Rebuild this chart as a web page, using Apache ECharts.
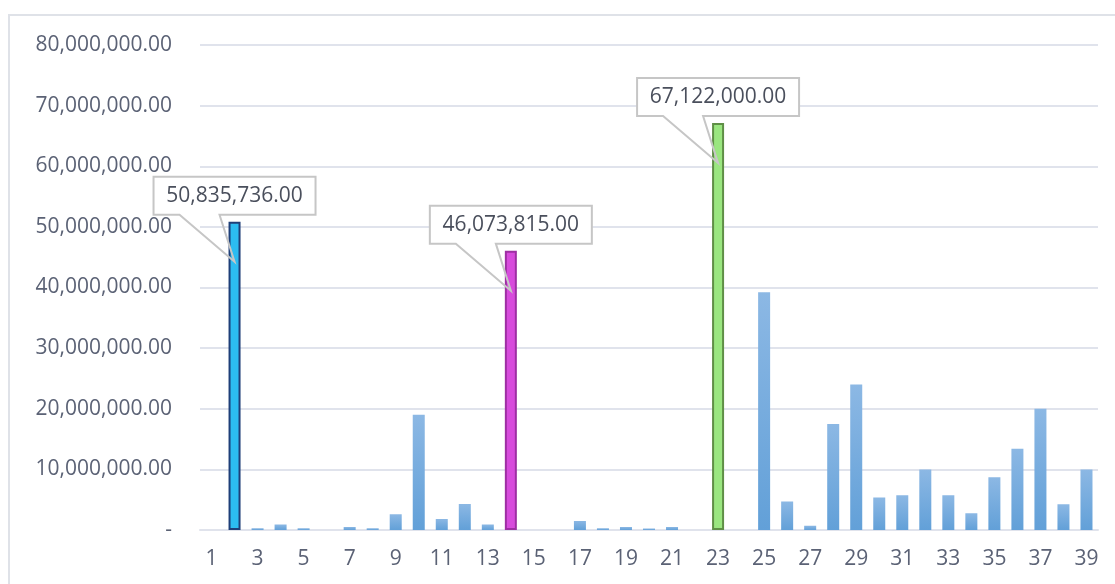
<!DOCTYPE html>
<html>
<head>
<meta charset="utf-8">
<script src="https://cdn.jsdelivr.net/npm/echarts@6/dist/echarts.min.js"></script>
<style>
  html, body { margin: 0; padding: 0; background: #fff; }
  #conMain { width: 1115px; height: 584px; }
</style>
</head>
<body>
<div id="conMain"></div>
<script>
var categories = ['1','2','3','4','5','6','7','8','9','10','11','12','13','14','15','16','17','18','19','20',
                  '21','22','23','24','25','26','27','28','29','30','31','32','33','34','35','36','37','38','39'];
var values = [0, 50835736, 300000, 900000, 300000, 0, 500000, 300000, 2600000, 19000000,
              1800000, 4300000, 900000, 46073815, 0, 0, 1500000, 300000, 500000, 250000,
              500000, 0, 67122000, 0, 39200000, 4700000, 700000, 17500000, 24000000, 5350000,
              5750000, 10000000, 5750000, 2750000, 8700000, 13400000, 20000000, 4250000, 10000000];
var yTicks = [0, 10000000, 20000000, 30000000, 40000000, 50000000, 60000000, 70000000, 80000000];

// bars that carry a callout label
var callouts = {
    '2':  { fill: '#2cbcf1', border: '#1f3f78' },
    '14': { fill: '#d74bdc', border: '#9e2fa3' },
    '23': { fill: '#9ae680', border: '#5f8f46' }
};

var FONT = 'Open Sans';
var textColor = '#5b6275';

function fmt(v) {
    return v.toLocaleString('en-US', { minimumFractionDigits: 2, maximumFractionDigits: 2 });
}

var normalStyle = {
    color: new echarts.graphic.LinearGradient(0, 0, 0, 1, [
        { offset: 0, color: '#8cb8e4' },
        { offset: 1, color: '#62a0d8' }
    ])
};

var data = values.map(function (v, i) {
    var c = callouts[categories[i]];
    if (!c) return { value: v, itemStyle: normalStyle };
    return {
        value: v,
        itemStyle: { color: c.fill, borderColor: c.border, borderWidth: 2 },
        label: {
            show: true,
            position: 'top',
            distance: 7,
            formatter: function (p) { return fmt(p.value); },
            fontFamily: FONT,
            fontSize: 21,
            color: '#4a4f5c',
            backgroundColor: '#fff',
            width: 142,
            height: 22,
            lineHeight: 22,
            align: 'center',
            padding: [8, 10]
        }
    };
});

var myChart = echarts.init(document.getElementById('conMain'));

var option = {
    animation: false,
    grid: { left: 200, right: 17, top: 45, bottom: 54, containLabel: false },
    xAxis: {
        type: 'category',
        data: categories,
        axisTick: { show: false },
        axisLine: { lineStyle: { color: '#e0e3ec', width: 2 } },
        axisLabel: { interval: 1, margin: 19, fontFamily: FONT, fontSize: 21, color: textColor }
    },
    yAxis: {
        type: 'value',
        min: yTicks[0],
        max: yTicks[yTicks.length - 1],
        interval: yTicks[1] - yTicks[0],
        axisLine: { show: false },
        axisTick: { show: false },
        splitLine: { lineStyle: { color: '#e0e3ec', width: 2 } },
        axisLabel: {
            margin: 28,
            fontFamily: FONT,
            fontSize: 21,
            color: textColor,
            formatter: function (v) { return v === 0 ? '-' : fmt(v); }
        }
    },
    series: [{
        name: 'value',
        type: 'bar',
        barWidth: 12,
        data: data
    }],
    graphic: [{
        type: 'rect',
        shape: { x: 9, y: 15, width: 1200, height: 700 },
        style: { fill: 'none', stroke: '#dfe2e8', lineWidth: 2 },
        silent: true
    }]
};
myChart.setOption(option);

// callout outline with a pointer down into the bar
var extra = [];
categories.forEach(function (cat, i) {
    if (!callouts[cat]) return;
    var p = myChart.convertToPixel({ seriesIndex: 0 }, [i, values[i]]);
    var cx = p[0], top = p[1];
    var B = top - 7, T = B - 38, L = cx - 81, R = cx + 81;
    extra.push({
        type: 'polygon',
        z: 100,
        silent: true,
        shape: { points: [[L, T], [R, T], [R, B], [cx - 15, B], [cx, top + 40], [cx - 55, B], [L, B]] },
        style: { fill: 'none', stroke: '#c6c6c6', lineWidth: 2 }
    });
});
myChart.setOption({ graphic: option.graphic.concat(extra) });
</script>
</body>
</html>
